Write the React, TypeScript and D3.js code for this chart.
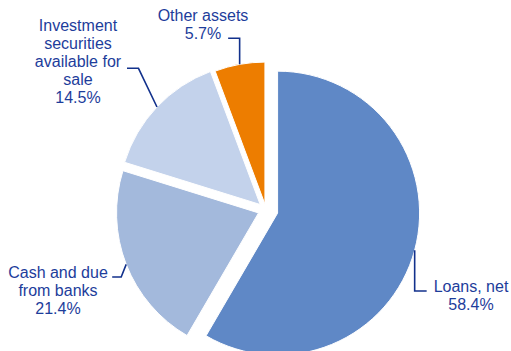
import React from "react";
import * as d3 from "d3";

const categories = ["Loans, net", "Cash and due from banks", "Investment securities available for sale", "Other assets"];
const values = [58.4, 21.4, 14.5, 5.7];
const labelLines = [
  ["Loans, net", "58.4%"],
  ["Cash and due", "from banks", "21.4%"],
  ["Investment", "securities", "available for", "sale", "14.5%"],
  ["Other assets", "5.7%"],
];

const colors = ["#5F88C6", "#A3B9DC", "#C3D2EB", "#ED7D00"];
const explode = [12, 8, 8, 6];
// label layout: text center x, first baseline y; leader elbow & end relative
const labelPos = [
  { x: 471, y: 291.5 },
  { x: 58, y: 277.5 },
  { x: 78, y: 30.5 },
  { x: 203, y: 20.5 },
];

const W = 511;
const H = 351;
const cx = 266;
const cy = 210;
const R = 142;
const lh = 18;

export default function App() {
  const pie = d3.pie<number>().sort(null).value((d) => d).startAngle(0).endAngle(2 * Math.PI);
  const arcs = pie(values);
  const arcGen = d3.arc<d3.PieArcDatum<number>>().innerRadius(0).outerRadius(R);

  const slices = arcs.map((a, i) => {
    const mid = (a.startAngle + a.endAngle) / 2;
    const ox = cx + explode[i] * Math.sin(mid);
    const oy = cy - explode[i] * Math.cos(mid);
    const ax = ox + R * Math.sin(mid);
    const ay = oy - R * Math.cos(mid);
    return { a, i, mid, ox, oy, ax, ay };
  });

  const leader = (s: typeof slices[number]) => {
    const { i, ax, ay } = s;
    if (i === 0) {
      // vertical down then horizontal to label
      const ey = labelPos[0].y - 0.5;
      return `M${ax},${ay}L${ax},${ey}L${ax + 12},${ey}`;
    }
    if (i === 1) {
      const ey = labelPos[1].y - 0.5;
      return `M${ax},${ay}L${ax - 5},${ey}L${ax - 14},${ey}`;
    }
    if (i === 2) {
      const ey = 68.3;
      return `M${ax},${ay}L${ax - 18.5},${ey}L${ax - 30},${ey}`;
    }
    const ey = 38.3;
    return `M${ax},${ay}L${ax},${ey}L${ax - 11.5},${ey}`;
  };

  return (
    <svg width={W} height={H} style={{ position: "absolute", left: 0, top: 0, background: "#fff" }}
      fontFamily="'Liberation Sans', Arial, sans-serif">
      {slices.map((s) => (
        <path key={categories[s.i]} d={arcGen(s.a) || ""} transform={`translate(${s.ox},${s.oy})`}
          fill={colors[s.i]} stroke="#fff" strokeWidth={1} />
      ))}
      {slices.map((s) => (
        <path key={"l" + s.i} d={leader(s)} fill="none" stroke="#12318C" strokeWidth={1.6} />
      ))}
      {labelLines.map((lines, i) => (
        <text key={"t" + i} x={labelPos[i].x} y={labelPos[i].y} textAnchor="middle" fontSize={16} fill="#1D3D9B">
          {lines.map((ln, j) => (
            <tspan key={j} x={labelPos[i].x} dy={j === 0 ? 0 : lh}>{ln}</tspan>
          ))}
        </text>
      ))}
    </svg>
  );
}
